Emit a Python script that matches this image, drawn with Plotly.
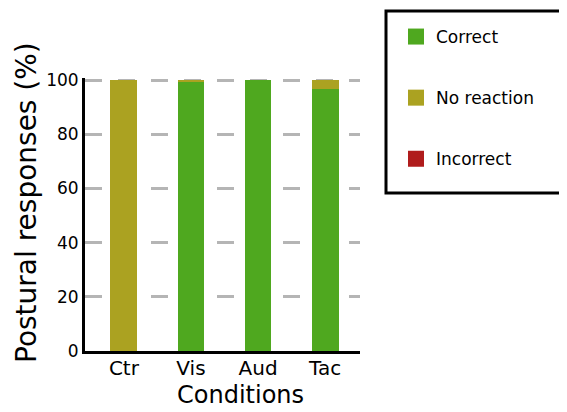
import plotly.graph_objects as go

categories = ["Ctr", "Vis", "Aud", "Tac"]
correct = [0, 99.6, 100, 96.8]
no_reaction = [100, 0.4, 0, 3.2]
incorrect = [0, 0, 0, 0]
series_names = ["Correct", "No reaction", "Incorrect"]
series_colors = ["#4fa81f", "#aba221", "#b01c1c"]
y_ticks = [0, 20, 40, 60, 80, 100]
x_title = "Conditions"
y_title = "Postural responses (%)"

FONT = "DejaVu Sans"
OFF = 8  # page body margin in the browser
W, H = 567 - OFF, 412 - OFF
L, R, T, B = 85 - OFF, 207, 78 - OFF, 61

fig = go.Figure()
for name, vals, col in zip(series_names, [correct, no_reaction, incorrect], series_colors):
    fig.add_trace(go.Bar(
        x=categories, y=vals, name=name,
        marker=dict(color=col, line=dict(width=0)),
        showlegend=False,
    ))
    # legend proxy
    fig.add_trace(go.Scatter(
        x=[None], y=[None], mode="markers", name=name,
        marker=dict(symbol="square", size=18, color=col),
        legendgroup=name, showlegend=True,
    ))

pw = W - L - R
ph = H - T - B
def px_x(p):
    return (p - OFF - L) / pw
def px_y(p):
    return (H - B - (p - OFF)) / ph

fig.add_shape(type="rect", xref="paper", yref="paper",
              x0=px_x(386), x1=px_x(600), y0=px_y(193), y1=px_y(11),
              line=dict(color="black", width=3), fillcolor="rgba(0,0,0,0)")

fig.add_annotation(text=x_title, xref="paper", yref="paper",
                   x=px_x(240), y=px_y(395), xanchor="center", yanchor="middle",
                   showarrow=False, font=dict(family=FONT, size=24, color="black"))
fig.add_annotation(text=y_title, xref="paper", yref="paper", textangle=-90,
                   x=px_x(26), y=px_y(203), xanchor="center", yanchor="middle",
                   showarrow=False, font=dict(family=FONT, size=28, color="black"))

fig.update_layout(
    width=W, height=H,
    margin=dict(l=L, r=R, t=T, b=B, autoexpand=False),
    barmode="stack",
    bargap=0.6,
    plot_bgcolor="white",
    paper_bgcolor="white",
    font=dict(family=FONT, color="black"),
    showlegend=True,
    legend=dict(
        x=px_x(396), y=px_y(19), xanchor="left", yanchor="top",
        font=dict(family=FONT, size=17, color="black"),
        tracegroupgap=36,
        borderwidth=0,
        bgcolor="rgba(0,0,0,0)",
        itemwidth=30,
    ),
    xaxis=dict(
        range=[-0.58, 3.52],
        showline=True, linecolor="black", linewidth=3,
        ticks="", showgrid=False,
        tickfont=dict(family=FONT, size=20, color="black"),
        ticklabelstandoff=-3,
    ),
    yaxis=dict(
        range=[0, 100.8],
        tickvals=y_ticks,
        showline=True, linecolor="black", linewidth=3,
        ticks="", zeroline=False,
        showgrid=True, gridcolor="#b5b5b5", gridwidth=3, griddash="17px,16px",
        tickfont=dict(family=FONT, size=17, color="black"),
        ticklabelstandoff=0,
    ),
)

fig.write_html("out.html")
